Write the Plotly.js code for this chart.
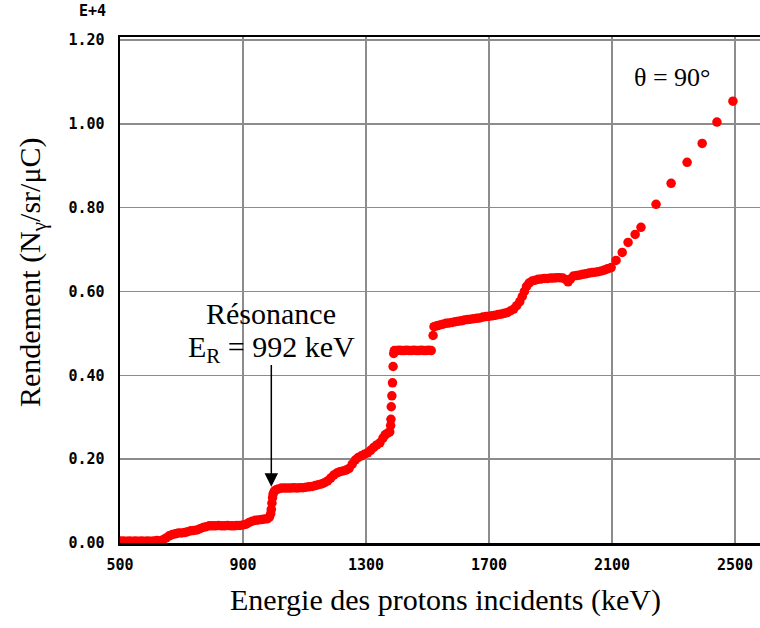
<!DOCTYPE html>
<html>
<head>
<meta charset="utf-8">
<script src="https://cdn.plot.ly/plotly-3.0.1.min.js"></script>
<style>html,body{margin:0;padding:0;background:#fff;}#chart{width:760px;height:628px;}</style>
</head>
<body>
<div id="chart"></div>
<script>
// Energy of incident protons (keV)
const energy = [
  500,510,520,530,540,550,560,570,580,590,600,610,620,630,640,
  650,660,670,680,690,700,710,720,730,740,750,760,770,780,790,
  800,810,820,830,840,850,860,870,880,890,900,910,920,930,940,
  950,960,970,980,986,990,992,994,996,998,1002,1008,1015,1025,1035,
  1045,1055,1065,1075,1085,1095,1105,1115,1125,1135,1145,1155,1165,1175,1185,
  1195,1205,1215,1225,1235,1245,1255,1265,1275,1285,1295,1305,1315,1325,1335,
  1345,1355,1362,1370,1377,1380,1381,1382,1384,1386,1388,1390,1392,
  1400,1408,1416,1424,1432,1440,1448,1456,1464,1472,1480,1488,1496,1504,1512,1518,1521,
  1530,1540,1550,1560,1570,1580,1590,1600,1610,1620,1630,1640,1650,1660,1670,
  1680,1690,1700,1710,1720,1730,1740,1750,1760,1770,1780,1790,1800,1808,1815,
  1822,1830,1840,1850,1860,1870,1880,1890,1900,1910,1920,1930,1940,1950,1957,
  1965,1975,1985,1995,2005,2015,2025,2035,2045,2055,2065,2075,2085,2097,
  2113,2133,2152,2175,2194,2243,2292,2344,2393,2441,2493
];
// Yield (units of 1E+4 N_gamma/sr/uC)
const rendement = [
  0.005,0.005,0.004,0.005,0.004,0.005,0.004,0.005,0.004,0.005,0.004,0.005,0.006,0.005,0.008,
  0.012,0.017,0.020,0.022,0.024,0.024,0.025,0.027,0.029,0.030,0.031,0.034,0.037,0.039,0.041,
  0.041,0.041,0.042,0.041,0.041,0.042,0.041,0.041,0.042,0.042,0.043,0.045,0.049,0.052,0.054,
  0.055,0.056,0.057,0.058,0.062,0.070,0.080,0.095,0.108,0.117,0.124,0.127,0.129,0.131,0.131,
  0.131,0.131,0.132,0.131,0.132,0.132,0.133,0.134,0.135,0.137,0.139,0.141,0.144,0.148,0.155,
  0.162,0.167,0.170,0.172,0.174,0.178,0.188,0.198,0.204,0.208,0.212,0.215,0.221,0.228,0.234,
  0.239,0.250,0.258,0.262,0.265,0.280,0.295,0.325,0.351,0.382,0.421,0.452,0.459,
  0.459,0.460,0.459,0.459,0.460,0.459,0.459,0.460,0.459,0.459,0.460,0.459,0.459,0.460,0.459,0.495,0.516,
  0.518,0.520,0.522,0.524,0.525,0.526,0.528,0.529,0.530,0.532,0.533,0.534,0.535,0.536,0.537,
  0.539,0.540,0.541,0.542,0.543,0.545,0.546,0.548,0.550,0.554,0.558,0.566,0.576,0.588,0.600,
  0.612,0.620,0.625,0.627,0.629,0.630,0.631,0.631,0.632,0.632,0.633,0.633,0.632,0.628,0.623,
  0.630,0.637,0.638,0.639,0.641,0.642,0.644,0.645,0.646,0.647,0.649,0.651,0.654,0.657,
  0.674,0.693,0.717,0.736,0.753,0.808,0.858,0.908,0.953,1.004,1.054
];
const xTicks = [500, 900, 1300, 1700, 2100, 2500];
const yTicks = [0, 0.2, 0.4, 0.6, 0.8, 1.0, 1.2];
const resonanceEnergy = 992;

const serif = 'Liberation Serif, Times New Roman, serif';
const mono = {family: 'DejaVu Sans Mono, monospace', size: 15, color: '#000', weight: 700};

const trace = {
  x: energy, y: rendement, type: 'scatter', mode: 'markers',
  marker: {color: '#ff0000', size: 9.5, symbol: 'circle', line: {width: 0}},
  hoverinfo: 'skip'
};

const layout = {
  width: 760, height: 628,
  margin: {l: 120, r: 0, t: 37, b: 85},
  paper_bgcolor: '#fff', plot_bgcolor: '#fff',
  showlegend: false,
  xaxis: {
    range: [500, 2581], tickvals: xTicks, ticktext: xTicks.map(String),
    showgrid: true, gridcolor: '#8c8c8c', gridwidth: 1.5,
    zeroline: false, showline: true, linecolor: '#000', linewidth: 2.5, mirror: true,
    ticks: '', tickfont: mono, ticklabelstandoff: 6
  },
  yaxis: {
    range: [0, 1.207], tickvals: yTicks, ticktext: yTicks.map(v => v.toFixed(2)),
    showgrid: true, gridcolor: '#8c8c8c', gridwidth: 1.5,
    zeroline: false, showline: true, linecolor: '#000', linewidth: 2.5, mirror: false,
    ticks: '', tickfont: mono, ticklabelstandoff: 10
  },
  annotations: [
    {text: 'E+4', xref: 'paper', yref: 'paper', x: -0.01875, y: 1.0514,
     xanchor: 'right', yanchor: 'middle', showarrow: false, font: mono},
    {text: 'Energie des protons incidents (keV)', xref: 'paper', yref: 'paper',
     x: 0.509, y: -0.113, xanchor: 'center', yanchor: 'middle', showarrow: false,
     font: {family: serif, size: 30, color: '#000'}},
    {text: 'Rendement (N<sub>γ</sub>/sr/μC)', xref: 'paper', yref: 'paper',
     x: -0.1375, y: 0.5336, xanchor: 'center', yanchor: 'middle', textangle: -90,
     showarrow: false, font: {family: serif, size: 30, color: '#000'}},
    {text: 'Résonance', xref: 'x', yref: 'y', x: resonanceEnergy, y: 0.547,
     xanchor: 'center', yanchor: 'middle', showarrow: false,
     font: {family: serif, size: 30, color: '#000'}},
    {text: 'E<sub>R</sub> = 992 keV', xref: 'x', yref: 'y', x: resonanceEnergy, y: 0.462,
     xanchor: 'center', yanchor: 'middle', showarrow: false,
     font: {family: serif, size: 30, color: '#000'}},
    {text: '', xref: 'x', yref: 'y', x: resonanceEnergy, y: 0.134,
     axref: 'x', ayref: 'y', ax: resonanceEnergy, ay: 0.428,
     showarrow: true, arrowhead: 2, arrowsize: 1.8, arrowwidth: 1.5, arrowcolor: '#000'},
    {text: 'θ = 90°', xref: 'x', yref: 'y', x: 2295, y: 1.111,
     xanchor: 'center', yanchor: 'middle', showarrow: false,
     font: {family: serif, size: 26, color: '#000'}}
  ]
};

Plotly.newPlot('chart', [trace], layout, {staticPlot: true, displayModeBar: false});
</script>
</body>
</html>
